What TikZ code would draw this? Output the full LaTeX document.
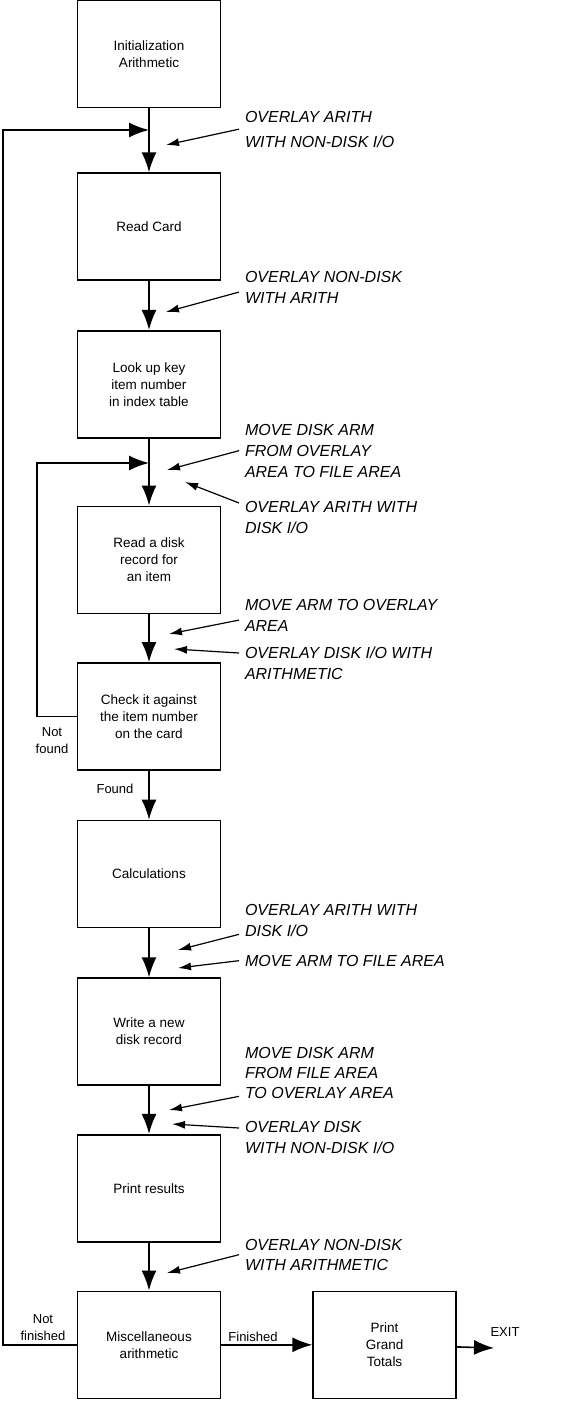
\documentclass[tikz,border=0pt]{standalone}
\usepackage{fontspec}
\setmainfont{Liberation Sans}
\usetikzlibrary{positioning,arrows.meta}

\begin{document}
\begin{tikzpicture}[x=1pt, y=-1pt,
    boxNode/.style={rectangle, draw, minimum width=143pt, minimum height=107pt, align=center, line width=1.6pt, font=\fontsize{13.5}{17}\selectfont},
    noteNode/.style={anchor=north west, align=left, inner sep=0pt, outer xsep=6pt, outer ysep=0pt, font=\itshape\fontsize{16}{21}\selectfont},
    labelNode/.style={align=center, font=\fontsize{13}{17}\selectfont},
    arrow/.style={-{Latex[length=20pt, width=15pt]}, line width=1.6pt},
    noteArrow/.style={-{Latex[length=13pt, width=8pt]}, line width=1.2pt}
  ]
  \useasboundingbox (0,0) rectangle (587,1410);

  % Main column
  \node[boxNode] (box1) at (149,54) {Initialization\\Arithmetic};
  \node[boxNode, below=64pt of box1] (box2) {Read Card};
  \node[boxNode, below=49pt of box2] (box3) {Look up key\\item number\\in index table};
  \node[boxNode, below=67pt of box3] (box4) {Read a disk\\record for\\an item};
  \node[boxNode, below=48pt of box4] (box5) {Check it against\\the item number\\on the card};
  \node[boxNode, below=49pt of box5] (box6) {Calculations};
  \node[boxNode, below=49pt of box6] (box7) {Write a new\\disk record};
  \node[boxNode, below=48pt of box7] (box8) {Print results};
  \node[boxNode, below=48pt of box8] (box9) {Miscellaneous\\arithmetic};
  \node[boxNode, right=91pt of box9] (box10) {Print\\Grand\\Totals};

  % Arrows
  \draw[arrow] (box1) -- (box2);
  \draw[arrow] (box2) -- (box3);
  \draw[arrow] (box3) -- (box4);
  \draw[arrow] (box4) -- (box5);
  \draw[arrow] (box5) -- (box6);
  \draw[arrow] (box6) -- (box7);
  \draw[arrow] (box7) -- (box8);
  \draw[arrow] (box8) -- (box9);
  \draw[arrow] (box9) -- (box10);
  \coordinate (exit) at (494,1348);
  \draw[arrow] (box10) -- (exit);

  % Loops back
  \coordinate (join1) at (149,130);
  \coordinate (join2) at (149,463);
  \draw[arrow] (box9.west) -- ++(-74,0) |- (join1);
  \draw[arrow] (box5.west) -- ++(-40,0) |- (join2);

  % Labels
  \node[labelNode] (notFound) at (52,741) {Not\\found};
  \node[labelNode] (found) at (115,789) {Found};
  \node[labelNode] (notFinished) at (43,1328) {Not\\finished};
  \node[labelNode] (finished) at (253,1337) {Finished};
  \node[labelNode] (exitLabel) at (505,1332) {EXIT};

  % Notes
  \node[noteNode, font=\itshape\fontsize{16}{25}\selectfont] (note1) at (239,111) {OVERLAY ARITH\\WITH NON-DISK I/O};
  \node[noteNode] (note2) at (239,271) {OVERLAY NON-DISK\\WITH ARITH};
  \node[noteNode] (note3) at (239,424) {MOVE DISK ARM\\FROM OVERLAY\\AREA TO FILE AREA};
  \node[noteNode] (note4) at (239,501) {OVERLAY ARITH WITH\\DISK I/O};
  \node[noteNode] (note5) at (239,599) {MOVE ARM TO OVERLAY\\AREA};
  \node[noteNode] (note6) at (239,647) {OVERLAY DISK I/O WITH\\ARITHMETIC};
  \node[noteNode] (note7) at (239,904) {OVERLAY ARITH WITH\\DISK I/O};
  \node[noteNode] (note8) at (239,955) {MOVE ARM TO FILE AREA};
  \node[noteNode, font=\itshape\fontsize{16}{20}\selectfont] (note9) at (239,1047) {MOVE DISK ARM\\FROM FILE AREA\\TO OVERLAY AREA};
  \node[noteNode] (note10) at (239,1121) {OVERLAY DISK\\WITH NON-DISK I/O};
  \node[noteNode, font=\itshape\fontsize{16}{20}\selectfont] (note11) at (239,1239) {OVERLAY NON-DISK\\WITH ARITHMETIC};

  % Note arrows
  \coordinate (tip1) at (166,145);
  \coordinate (tip2) at (166,312);
  \coordinate (tip3) at (167,470);
  \coordinate (tip4) at (185,482);
  \coordinate (tip5) at (169,634);
  \coordinate (tip6) at (174,649);
  \coordinate (tip7) at (178,950);
  \coordinate (tip8) at (178,968);
  \coordinate (tip9) at (169,1110);
  \coordinate (tip10) at (172,1124);
  \coordinate (tip11) at (167,1273);
  \draw[noteArrow] (note1.west) -- (tip1);
  \draw[noteArrow] ([yshift=-5pt]note2.west) -- (tip2);
  \draw[noteArrow] (note3.west) -- (tip3);
  \draw[noteArrow] ([yshift=-2pt]note4.north west) -- (tip4);
  \draw[noteArrow] ([yshift=-5pt]note5.west) -- (tip5);
  \draw[noteArrow] ([yshift=-6pt]note6.north west) -- (tip6);
  \draw[noteArrow] ([yshift=2pt]note7.south west) -- (tip7);
  \draw[noteArrow] (note8.west) -- (tip8);
  \draw[noteArrow] ([yshift=2pt]note9.south west) -- (tip9);
  \draw[noteArrow] ([yshift=-7pt]note10.north west) -- (tip10);
  \draw[noteArrow] (note11.west) -- (tip11);
\end{tikzpicture}
\end{document}
